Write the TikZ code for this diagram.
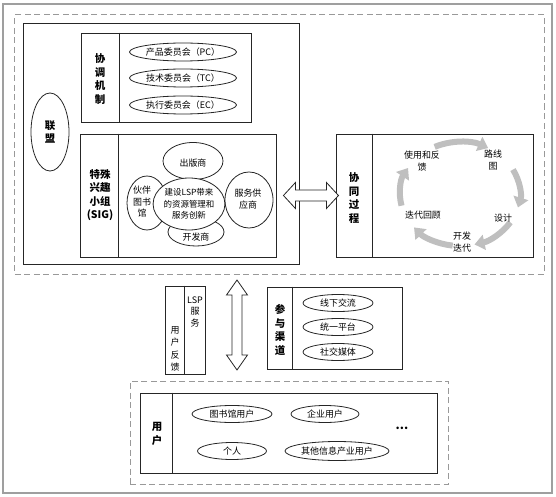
\documentclass[tikz,border=0pt]{standalone}
\usepackage{fontspec}
\setmainfont{Noto Sans CJK SC}
\usetikzlibrary{positioning, arrows.meta, shapes.geometric, calc}

\tikzset{
  quadro/.style={draw=black!85, line width=0.9bp, inner sep=0pt},
  tracejado/.style={draw=gray!80, line width=1bp, dash pattern=on 6bp off 3.5bp, inner sep=0pt},
  divisor/.style={draw=black!85, line width=0.9bp},
  oval/.style={ellipse, draw=black!85, line width=0.8bp, inner sep=0pt, font=\fontsize{9}{11}\selectfont},
  petala/.style={ellipse, draw=black!85, fill=white, line width=0.8bp, inner sep=0pt},
  rotulo/.style={align=center, inner sep=0pt, font=\fontsize{9}{11.5}\selectfont},
  biaoti/.style={align=center, inner sep=0pt, font=\fontsize{10.5}{13.5}\selectfont\bfseries},
  ciclo/.style={draw=black!25, line width=6bp, -{Triangle[width=15bp, length=10bp]}},
  oco/.style={draw=black!85, fill=white, line width=0.8bp, line join=miter}
}

\begin{document}
\begin{tikzpicture}[x=1bp, y=-1bp]
  \useasboundingbox (0,0) rectangle (556,497);
  % 外框与虚线框
  \node[draw=gray!75, line width=1.6bp, inner sep=0pt, minimum width=549bp, minimum height=489bp] (waikuang) at (277.5,248.5) {};
  \node[tracejado, minimum width=529bp, minimum height=259bp] (shangbu) at (279.5,144.5) {};
  \node[tracejado, minimum width=318bp, minimum height=103bp] (yonghuqu) at (289,432.5) {};
  % 联盟
  \node[quadro, minimum width=276bp, minimum height=241bp] (lianmengkuang) at (161,143.5) {};
  \node[oval, biaoti, minimum width=38bp, minimum height=78bp] (lianmeng) at (50,132) {联\\盟};
  % 协调机制
  \node[quadro, minimum width=170bp, minimum height=89bp] (xietiao) at (166,77.5) {};
  \draw[divisor] ([xshift=39bp]xietiao.north west) -- ([xshift=39bp]xietiao.south west);
  \node[biaoti] (xietiaot) at (100,79) {协\\调\\机\\制};
  \node[oval, minimum width=107bp, minimum height=18bp] (pc) at (183,52) {产品委员会（PC）};
  \node[oval, minimum width=107bp, minimum height=18bp] (tc) at (183,78) {技术委员会（TC）};
  \node[oval, minimum width=107bp, minimum height=18bp] (ec) at (183,105) {执行委员会（EC）};
  % 特殊兴趣小组
  \node[quadro, minimum width=196bp, minimum height=123bp] (sig) at (178,195.5) {};
  \draw[divisor] ([xshift=39bp]sig.north west) -- ([xshift=39bp]sig.south west);
  \node[biaoti] (sigt) at (100,195) {特殊\\兴趣\\小组\\(SIG)};
  \node[petala, minimum width=60bp, minimum height=37bp] (chuban) at (193,161) {};
  \node[petala, minimum width=40bp, minimum height=54bp] (huoban) at (147,203) {};
  \node[petala, minimum width=48bp, minimum height=56bp] (fuwu) at (249,200) {};
  \node[petala, minimum width=56bp, minimum height=28bp] (kaifa) at (196,232) {};
  \node[petala, rotulo, minimum width=68bp, minimum height=52bp, font=\fontsize{8.5}{11.5}\selectfont] (chuangxin) at (189,204) {建设LSP带来\\的资源管理和\\服务创新};
  \node[rotulo] (chubant) at (193,163) {出版商};
  \node[rotulo] (huobant) at (142,202) {伙伴\\图书\\馆};
  \node[rotulo] (fuwut) at (248,199) {服务供\\应商};
  \node[rotulo] (kaifat) at (196,237) {开发商};
  % 协同过程
  \node[quadro, minimum width=197bp, minimum height=123bp] (xietong) at (434.5,195.5) {};
  \draw[divisor] ([xshift=37bp]xietong.north west) -- ([xshift=37bp]xietong.south west);
  \node[biaoti] (xietongt) at (354,198) {协\\同\\过\\程};
  \coordinate (huan) at (460,194);
  \draw[ciclo] (huan) ++(-115:60 and 52) arc[start angle=-115, end angle=-62, x radius=60, y radius=52];
  \draw[ciclo] (huan) ++(-28:60 and 52) arc[start angle=-28, end angle=15, x radius=60, y radius=52];
  \draw[ciclo] (huan) ++(33:60 and 52) arc[start angle=33, end angle=76, x radius=60, y radius=52];
  \draw[ciclo] (huan) ++(97:60 and 52) arc[start angle=97, end angle=140, x radius=60, y radius=52];
  \draw[ciclo] (huan) ++(167:60 and 52) arc[start angle=167, end angle=210, x radius=60, y radius=52];
  \node[rotulo] (fankui) at (422,161) {使用和反\\馈};
  \node[rotulo] (luxian) at (493,160) {路线\\图};
  \node[rotulo] (sheji) at (503,218) {设计};
  \node[rotulo] (diedai) at (462,242) {开发\\迭代};
  \node[rotulo] (huigu) at (423,215) {迭代回顾};
  % 双向箭头
  \coordinate (sa) at ([xshift=7bp]sig.east);
  \draw[oco] (sa) -- ++(12,-13) -- ++(0,7.5) -- ++(31,0) -- ++(0,-7.5) -- ++(12,13)
    -- ++(-12,13) -- ++(0,-7.5) -- ++(-31,0) -- ++(0,7.5) -- cycle;
  \coordinate (va) at (237,280);
  \draw[oco] (va) -- ++(10.5,15) -- ++(-5.5,0) -- ++(0,60) -- ++(5.5,0) -- ++(-10.5,15)
    -- ++(-10.5,-15) -- ++(5.5,0) -- ++(0,-60) -- ++(-5.5,0) -- cycle;
  % 用户反馈与LSP服务
  \node[quadro, minimum width=40bp, minimum height=88bp] (fuwukuang) at (185,330) {};
  \draw[divisor] ([xshift=20bp]fuwukuang.north west) -- ([xshift=20bp]fuwukuang.south west);
  \node[rotulo, font=\fontsize{9}{12.5}\selectfont] (yonghufankui) at (175,349) {用\\户\\反\\馈};
  \node[rotulo, font=\fontsize{9}{12}\selectfont] (lspfuwu) at (195,312) {LSP\\服\\务};
  % 参与渠道
  \node[quadro, minimum width=135bp, minimum height=82bp] (qudao) at (334.5,328) {};
  \draw[divisor] ([xshift=26bp]qudao.north west) -- ([xshift=26bp]qudao.south west);
  \node[biaoti] (qudaot) at (280,330) {参\\与\\渠\\道};
  \node[oval, minimum width=70bp, minimum height=17bp] (xianxia) at (338,303) {线下交流};
  \node[oval, minimum width=70bp, minimum height=17bp] (tongyi) at (338,327) {统一平台};
  \node[oval, minimum width=70bp, minimum height=17bp] (shejiao) at (338,352) {社交媒体};
  % 用户
  \node[quadro, minimum width=297bp, minimum height=80bp] (yonghu) at (288.5,433) {};
  \draw[divisor] ([xshift=33bp]yonghu.north west) -- ([xshift=33bp]yonghu.south west);
  \node[biaoti] (yonghut) at (157,434) {用\\户};
  \node[oval, minimum width=80bp, minimum height=17bp] (tushuguan) at (232,414) {图书馆用户};
  \node[oval, minimum width=68bp, minimum height=17bp] (qiye) at (325,414) {企业用户};
  \node[oval, minimum width=69bp, minimum height=17bp] (geren) at (232,451) {个人};
  \node[oval, minimum width=104bp, minimum height=19bp] (qita) at (337,451) {其他信息产业用户};
  \node[font=\fontsize{12}{12}\selectfont\bfseries] (gengduo) at (402,428) {...};
\end{tikzpicture}
\end{document}
